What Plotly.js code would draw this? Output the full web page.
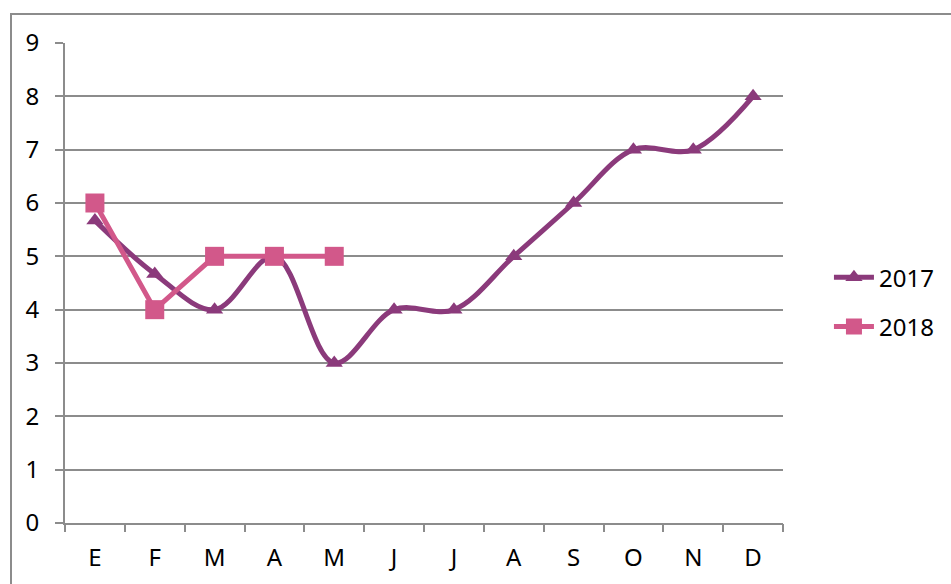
<!DOCTYPE html>
<html>
<head>
<meta charset="utf-8">
<script src="https://cdn.plot.ly/plotly-3.0.1.min.js"></script>
<style>
html,body{margin:0;padding:0;background:#fff;overflow:hidden;}
#chart{position:absolute;left:0;top:0;width:951px;height:584px;}
#frame{position:absolute;left:10px;top:13px;width:960px;height:600px;border:2px solid #8c8c8c;box-sizing:border-box;pointer-events:none;}
</style>
</head>
<body>
<div id="chart"></div>
<div id="frame"></div>
<script>
const months = ["E","F","M","A","M","J","J","A","S","O","N","D"];
const series2017 = [5.67, 4.67, 4, 5, 3, 4, 4, 5, 6, 7, 7, 8];
const series2018 = [6, 4, 5, 5, 5];
const seriesNames = ["2017", "2018"];

const idx = months.map((m, i) => i);
const font = {family: "Noto Sans, Open Sans, sans-serif", size: 24, color: "#000"};

const traces = [
  {
    x: idx, y: series2017, name: seriesNames[0], legendgroup: "a", type: "scatter", mode: "lines+markers",
    line: {color: "#8B3A7B", width: 5, shape: "spline", smoothing: 1},
    marker: {symbol: "triangle-up", size: 15, color: "#8B3A7B"}
  },
  {
    x: idx.slice(0, series2018.length), y: series2018, name: seriesNames[1], legendgroup: "b", type: "scatter", mode: "lines+markers",
    line: {color: "#D2588A", width: 5},
    marker: {symbol: "square", size: 19, color: "#D2588A"}
  },
  {
    x: [], y: [], xaxis: "x2", showlegend: false, hoverinfo: "skip", type: "scatter"
  }
];

const layout = {
  width: 951, height: 584,
  margin: {l: 65, r: 168, t: 43, b: 61},
  paper_bgcolor: "#fff", plot_bgcolor: "#fff",
  font: font,
  showlegend: true,
  legend: {x: 1.064, y: 0.46, xanchor: "left", yanchor: "middle", font: font, bgcolor: "rgba(0,0,0,0)",
           traceorder: "grouped", tracegroupgap: 15, itemwidth: 40},
  xaxis: {
    range: [-0.5, 11.5], tickvals: idx, ticktext: months, ticks: "", showgrid: false,
    showline: true, linecolor: "#8c8c8c", linewidth: 2, zeroline: false,
    tickfont: font, ticklabelstandoff: 12, fixedrange: true
  },
  xaxis2: {
    overlaying: "x", matches: "x", range: [-0.5, 11.5],
    tickvals: idx.map(i => i - 0.5).concat([idx.length - 0.5]),
    ticks: "outside", ticklen: 8, tickwidth: 2, tickcolor: "#8c8c8c",
    showticklabels: false, showgrid: false, showline: false, zeroline: false,
    side: "bottom", anchor: "y"
  },
  yaxis: {
    range: [0, 9], dtick: 1, tick0: 0, ticks: "outside", ticklen: 8, tickwidth: 2, tickcolor: "#8c8c8c",
    showgrid: true, gridcolor: "#8c8c8c", gridwidth: 2,
    showline: true, linecolor: "#8c8c8c", linewidth: 2, zeroline: false,
    tickfont: font, ticklabelstandoff: 11, fixedrange: true
  }
};

Plotly.newPlot("chart", traces, layout, {displayModeBar: false, staticPlot: true});
</script>
</body>
</html>
